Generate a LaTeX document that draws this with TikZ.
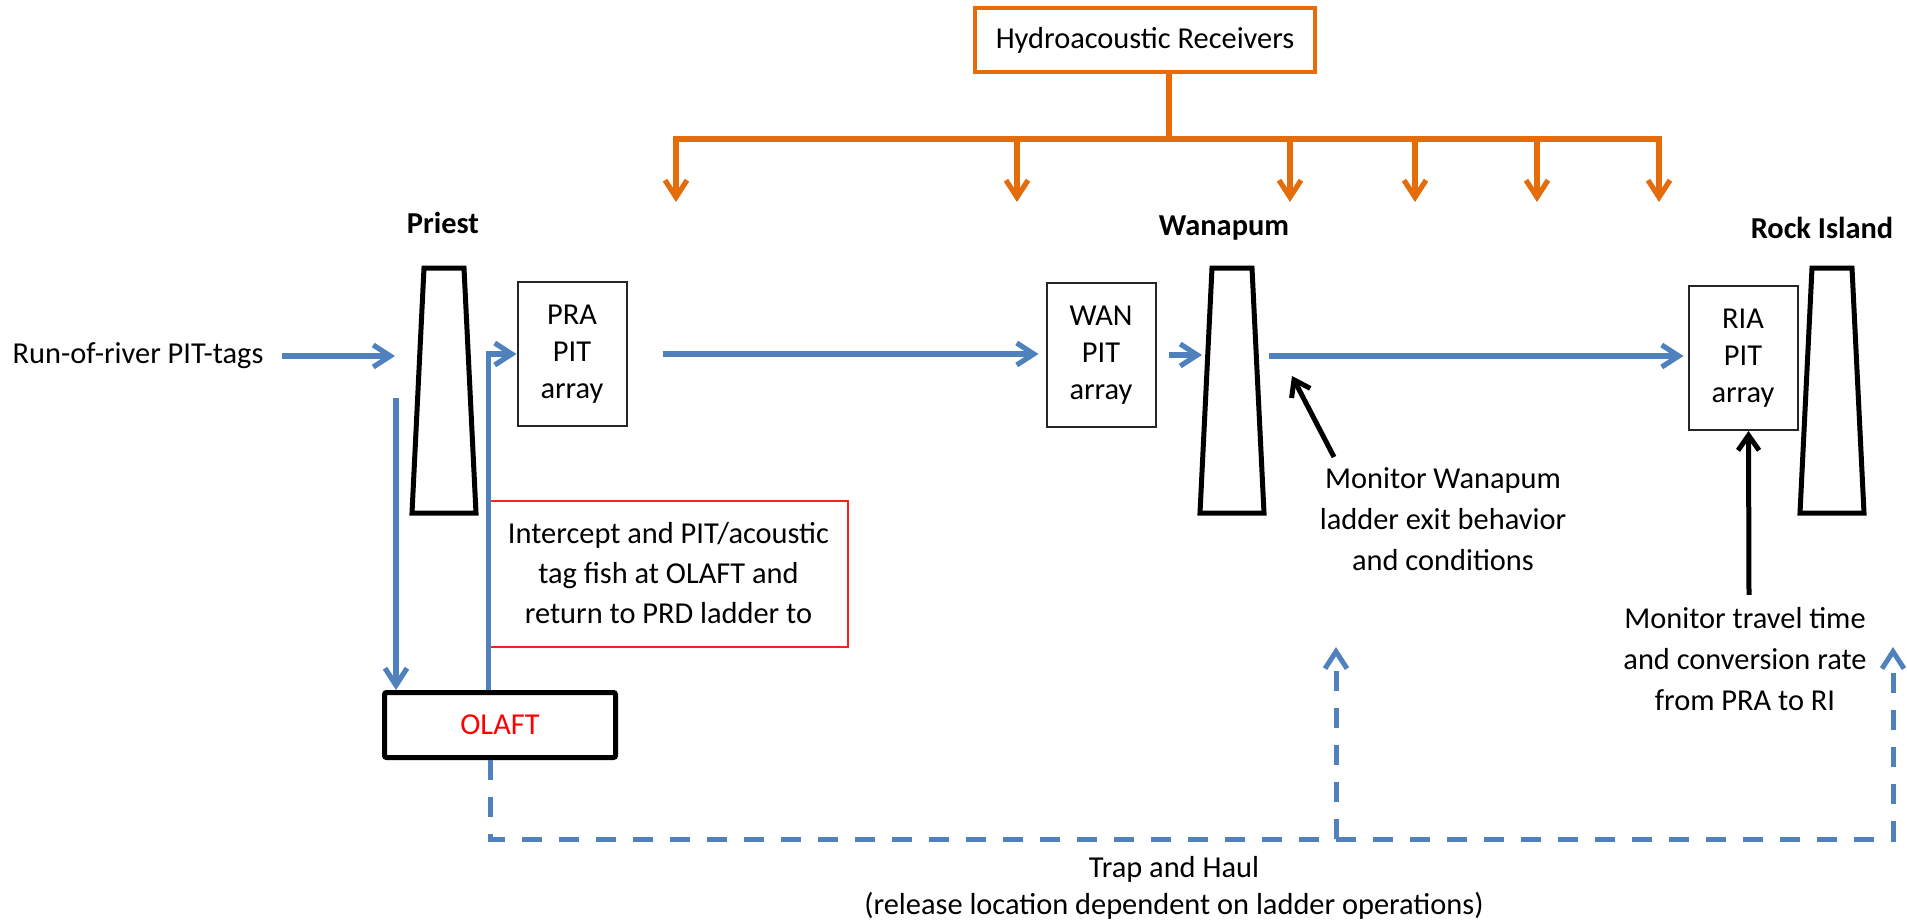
\documentclass[tikz,border=0pt]{standalone}
\usepackage{fontspec}
\setmainfont{Carlito}
\usetikzlibrary{arrows.meta}
\definecolor{hydroorange}{RGB}{228,108,10}
\definecolor{pitblue}{RGB}{79,129,189}
\definecolor{boxred}{RGB}{255,30,30}

\tikzset{
  txt/.style={align=center, inner sep=0pt, font=\fontsize{15.2}{18.5}\selectfont},
  damname/.style={inner sep=0pt, font=\fontsize{15.2}{18.5}\selectfont\bfseries},
  pitbox/.style={txt, draw=black!85, line width=1pt, minimum width=54.5pt, minimum height=72pt},
  flow/.style={pitblue, line width=2.6pt, -{Straight Barb[length=8.5pt,width=11pt]}},
  haulline/.style={pitblue, line width=2.5pt, dash pattern=on 10pt off 8.5pt, -{Straight Barb[length=8.5pt,width=11pt]}},
  note/.style={black, line width=2.5pt, -{Straight Barb[length=7.5pt,width=10.5pt]}},
  recv/.style={hydroorange, line width=2.6pt},
  dam/.style={black, line width=2.5pt, line join=miter},
}

\begin{document}
\begin{tikzpicture}[x=0.5pt, y=-0.5pt]
  \useasboundingbox (0,0) rectangle (1907,921);
  % receivers
  \node[txt, draw=hydroorange, line width=1.7pt, minimum width=170pt, minimum height=32pt] (hydro) at (1145,40) {Hydroacoustic Receivers};
  \draw[recv] ([xshift=12pt]hydro.south) -- ++(0,66);
  \draw[recv, {Straight Barb[length=8.5pt,width=11pt]}-{Straight Barb[length=8.5pt,width=11pt]}] (676,202) -- (676,139) -- (1659,139) -- (1659,202);
  \foreach \x in {1017,1290,1415,1537}
    \draw[recv, -{Straight Barb[length=8.5pt,width=11pt]}] (\x,139) -- (\x,202);
  % dams
  \foreach \cx in {444,1232,1832}
    \draw[dam] (\cx-32,513) -- (\cx-20,268) -- (\cx+20,268) -- (\cx+32,513) -- cycle;
  \node[damname] (priest) at (443,223) {Priest};
  \node[damname] (wanapum) at (1224,228) {Wanapum};
  \node[damname] (rockisland) at (1822,228) {Rock Island};
  % PIT arrays
  \node[pitbox] (pra) at (572,354) {PRA\\PIT\\array};
  \node[pitbox] (wan) at (1101,355) {WAN\\PIT\\array};
  \node[pitbox] (ria) at (1743,358) {RIA\\PIT\\array};
  % trap
  \node[txt, draw, line width=2.5pt, rounded corners=1pt, minimum width=115.5pt, minimum height=32.5pt, text=red] (olaft) at (500,725) {OLAFT};
  \node[txt, draw=boxred, line width=1pt, minimum width=179pt, minimum height=73pt, font=\fontsize{15.2}{20}\selectfont] (intercept) at (668.5,573.5) {Intercept and PIT/acoustic\\tag fish at OLAFT and\\return to PRD ladder to};
  % texts
  \node[txt] (runriver) at (138,356) {Run-of-river PIT-tags};
  \node[txt, font=\fontsize{15.2}{20.5}\selectfont] (monwan) at (1443,519) {Monitor Wanapum\\ladder exit behavior\\and conditions};
  \node[txt, font=\fontsize{15.2}{20.5}\selectfont] (monria) at (1745,659) {Monitor travel time\\and conversion rate\\from PRA to RI};
  \node[txt] (trap) at (1174,888) {Trap and Haul\\(release location dependent on ladder operations)};
  % fish flow
  \coordinate (priestin) at (395,355);
  \coordinate (wanin) at (1202,355);
  \coordinate (wanout) at (1269,356);
  \coordinate (priestdown) at (396,398);
  \draw[flow] (runriver.east -| 282,0) -- (runriver.east -| priestin);
  \draw[flow, shorten >=3.5pt] ([xshift=17.5pt]pra.east) -- (pra.east -| wan.west);
  \draw[flow] ([xshift=6pt]wan.east) -- (wan.east -| wanin);
  \draw[flow, shorten >=2pt] (wanout) -- (wanout -| ria.west);
  \draw[flow] (priestdown) -- (priestdown |- olaft.north);
  \draw[flow] (olaft.north -| intercept.west) |- (pra.west);
  % trap and haul
  \coordinate (haul) at (490,839);
  \coordinate (relwan) at (1336,647);
  \coordinate (relria) at (1893,647);
  \draw[haulline] (olaft.south -| haul) -- (haul) -- (haul -| relria) -- (relria);
  \draw[haulline] (haul -| relwan) -- (relwan);
  % monitoring
  \coordinate (wanexit) at (1292,376);
  \draw[note] ([xshift=-54.5pt,yshift=5pt]monwan.north) -- (wanexit);
  \draw[note] ([xshift=2pt,yshift=6pt]monria.north) -- ([xshift=2.75pt]ria.south);
\end{tikzpicture}
\end{document}
